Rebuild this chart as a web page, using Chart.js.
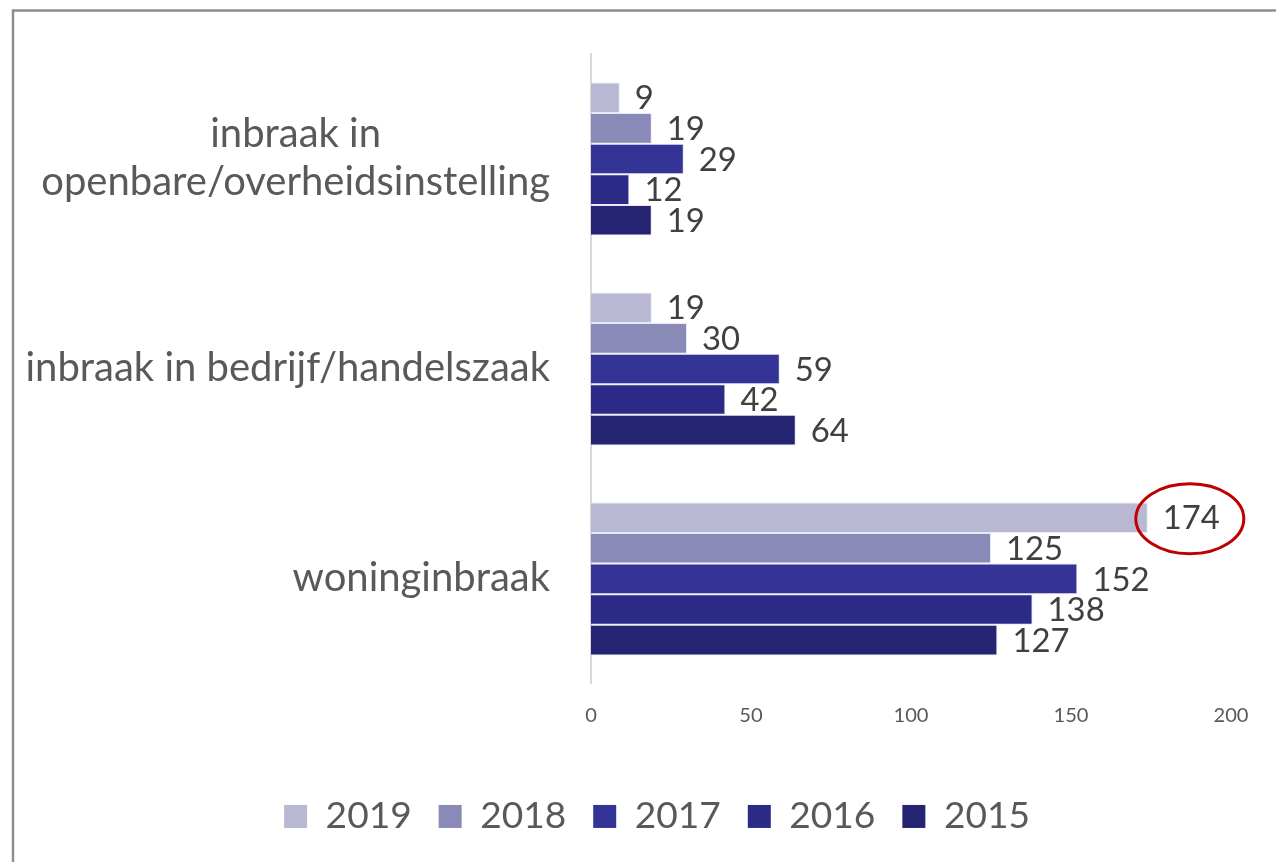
<!DOCTYPE html>
<html>
<head>
<meta charset="utf-8">
<script src="https://cdn.jsdelivr.net/npm/chart.js@4.4.1/dist/chart.umd.min.js"></script>
<style>
html,body{margin:0;padding:0;background:#ffffff;}
canvas{display:block;}
</style>
</head>
<body>
<canvas id="c" width="1276" height="862"></canvas>
<script>
// ---- data ----
const categories = [["inbraak in", "openbare/overheidsinstelling"], ["inbraak in bedrijf/handelszaak"], ["woninginbraak"]];
const years = ["2019", "2018", "2017", "2016", "2015"];
const values2019 = [9, 19, 174];
const values2018 = [19, 30, 125];
const values2017 = [29, 59, 152];
const values2016 = [12, 42, 138];
const values2015 = [19, 64, 127];
const xTickValues = [0, 50, 100, 150, 200];
const highlighted = { year: "2019", category: 2 };

// ---- styles ----
const palette = ['#b8b8d2', '#8a8ab8', '#343496', '#2c2a87', '#252472'];
const FONT = 'Lato, "Open Sans", "Liberation Sans", sans-serif';
const mctx = document.createElement('canvas').getContext('2d');
function fitSize(text, target) {
  mctx.font = '100px ' + FONT;
  return Math.round(1000 * target / mctx.measureText(text).width) / 10;
}
const catSize = fitSize("inbraak in bedrijf/handelszaak", 525);
const valSize = fitSize("174", 57);
const legSize = fitSize("2019", 86);
const tickSize = fitSize("100", 35);

const plotTop = 54, plotBottom = 684, plotLeft = 591, plotRight = 1231;
const legBox = 23;
const legPad = Math.max(4, Math.round(155 - (legBox + legSize / 2 + 86)));
const xAxisH = Math.round(817 - plotBottom - legPad - legSize / 2);
const legH = legSize + legPad + 10;
const padLeft = 83;
const padBottom = Math.max(0, Math.round(862 - (plotBottom + xAxisH + legH)));

const series = [values2019, values2018, values2017, values2016, values2015];

const bgPlugin = {
  id: 'bgFrame',
  beforeDraw(chart) {
    const ctx = chart.ctx;
    ctx.save();
    ctx.fillStyle = '#ffffff';
    ctx.fillRect(0, 0, chart.width, chart.height);
    ctx.strokeStyle = '#8e8e8e';
    ctx.lineWidth = 2.5;
    ctx.strokeRect(13, 10.5, chart.width + 20, chart.height + 20);
    ctx.restore();
  }
};

const valueLabels = {
  id: 'valueLabels',
  afterDatasetsDraw(chart) {
    const ctx = chart.ctx;
    ctx.save();
    ctx.font = valSize + 'px ' + FONT;
    ctx.fillStyle = '#404040';
    ctx.textAlign = 'left';
    ctx.textBaseline = 'middle';
    chart.data.datasets.forEach((ds, i) => {
      chart.getDatasetMeta(i).data.forEach((bar, j) => {
        ctx.fillText(String(ds.data[j]), bar.x + 15, bar.y + 1);
      });
    });
    // highlight ellipse
    const di = years.indexOf(highlighted.year);
    const bar = chart.getDatasetMeta(di).data[highlighted.category];
    ctx.strokeStyle = '#c00000';
    ctx.lineWidth = 3;
    ctx.beginPath();
    ctx.ellipse(bar.x + 42, bar.y + 1, 54, 35, 0, 0, Math.PI * 2);
    ctx.stroke();
    ctx.restore();
  }
};

const categoryLabels = {
  id: 'categoryLabels',
  afterDraw(chart) {
    const ctx = chart.ctx;
    const ys = chart.scales.y;
    ctx.save();
    ctx.font = catSize + 'px ' + FONT;
    ctx.fillStyle = '#595959';
    ctx.textAlign = 'center';
    ctx.textBaseline = 'alphabetic';
    const right = chart.chartArea.left - 41;
    const lh = 48;
    categories.forEach((lines, i) => {
      const cy = ys.getPixelForValue(i);
      const w = Math.max(...lines.map(l => ctx.measureText(l).width));
      const cx = right - w / 2;
      lines.forEach((l, k) => {
        ctx.fillText(l, cx, cy + 12 + (k - (lines.length - 1) / 2) * lh);
      });
    });
    ctx.restore();
  }
};

new Chart(document.getElementById('c'), {
  type: 'bar',
  data: {
    labels: categories,
    datasets: years.map((y, i) => ({
      label: y,
      data: series[i],
      backgroundColor: palette[i],
      borderColor: 'rgba(205,205,235,0.45)',
      borderWidth: 1,
      categoryPercentage: 0.729,
      barPercentage: 1.0
    }))
  },
  options: {
    indexAxis: 'y',
    responsive: false,
    animation: false,
    devicePixelRatio: 1,
    layout: { padding: { top: plotTop, right: 1276 - plotRight, left: padLeft, bottom: padBottom } },
    scales: {
      x: {
        min: 0, max: 200,
        afterBuildTicks(s) { s.ticks = xTickValues.map(v => ({ value: v })); },
        afterFit(s) { s.height = xAxisH; },
        grid: { display: false, drawTicks: false },
        border: { display: false },
        ticks: { color: '#595959', font: { family: FONT, size: tickSize }, padding: 20, maxRotation: 0 }
      },
      y: {
        afterFit(s) { s.width = plotLeft - padLeft; },
        grid: { display: false, drawTicks: false },
        border: { display: true, color: '#d9d9d9', width: 2 },
        ticks: { display: false }
      }
    },
    plugins: {
      tooltip: { enabled: false },
      legend: {
        position: 'bottom',
        align: 'center',
        labels: {
          boxWidth: legBox, boxHeight: legBox, padding: legPad,
          color: '#595959',
          font: { family: FONT, size: legSize },
          generateLabels(chart) {
            return chart.data.datasets.map((ds, i) => ({
              text: ds.label, fillStyle: ds.backgroundColor, strokeStyle: ds.backgroundColor,
              lineWidth: 0, hidden: false, datasetIndex: i, fontColor: '#595959'
            }));
          }
        }
      }
    }
  },
  plugins: [bgPlugin, valueLabels, categoryLabels]
});
</script>
</body>
</html>
